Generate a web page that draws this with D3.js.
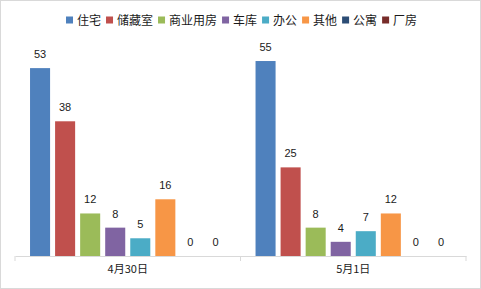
<!DOCTYPE html>
<html>
<head>
<meta charset="utf-8">
<script src="https://cdn.jsdelivr.net/npm/d3@7"></script>
<style>
body { margin: 0; background: #fff; }
svg { display: block; font-family: "Liberation Sans", "Noto Sans CJK SC", sans-serif; }
</style>
</head>
<body>
<svg></svg>
<script>
// data
var dates = ["4月30日", "5月1日"]
var types = ["住宅", "储藏室", "商业用房", "车库", "办公", "其他", "公寓", "厂房"]
var apr30 = [53, 38, 12, 8, 5, 16, 0, 0]
var may1 = [55, 25, 8, 4, 7, 12, 0, 0]
var colors = ["#4F81BD", "#C0504D", "#9BBB59", "#8064A2", "#4BACC6", "#F79646", "#2C4D75", "#772C2A"]

var screen = {width: 481, height: 289}
var svg = d3.select("svg")
    .attr("width", screen.width)
    .attr("height", screen.height)

svg.append("rect")
    .attr("x", 0.5).attr("y", 0.5)
    .attr("width", screen.width - 1).attr("height", screen.height - 1)
    .attr("fill", "#fff").attr("stroke", "#d9d9d9")

var series = [apr30, may1]

var xscale = d3.scaleBand().domain(dates).range([15, 466])
var inner = d3.scaleBand().domain(types).range([0, xscale.bandwidth()])
    .paddingInner(0.2).paddingOuter(0.6)
var yscale = d3.scaleLinear().domain([0, 60]).range([256, 43.3])

var groups = svg.selectAll("g.grp")
    .data(dates)
    .enter()
    .append("g")
    .attr("class", "grp")
    .attr("transform", function(d) { return "translate(" + xscale(d) + ",0)" })

groups.each(function(d, gi)
{
    var g = d3.select(this)
    var vals = series[gi].map(function(v, i) { return {type: types[i], value: v, color: colors[i]} })

    g.selectAll("rect")
        .data(vals)
        .enter()
        .append("rect")
        .attr("x", function(p) { return inner(p.type) })
        .attr("y", function(p) { return yscale(p.value) })
        .attr("width", inner.bandwidth())
        .attr("height", function(p) { return yscale(0) - yscale(p.value) })
        .attr("fill", function(p) { return p.color })

    g.selectAll("text")
        .data(vals)
        .enter()
        .append("text")
        .attr("x", function(p) { return inner(p.type) + inner.bandwidth() / 2 })
        .attr("y", function(p) { return yscale(p.value) - 10 })
        .attr("text-anchor", "middle")
        .attr("font-size", 11)
        .attr("fill", "#1a1a1a")
        .text(function(p) { return p.value })
})

// x axis
var axis = svg.append("g")
    .attr("transform", "translate(0,256)")
    .call(d3.axisBottom(xscale).tickSize(0).tickPadding(9))
axis.select(".domain").attr("stroke", "#d9d9d9")
axis.selectAll("text").attr("font-size", 11).attr("fill", "#1a1a1a")
    .attr("font-family", "'Noto Sans CJK SC', sans-serif")

// tick separators at band edges
var edges = [xscale.range()[0]].concat(dates.map(function(d) { return xscale(d) + xscale.bandwidth() }))
axis.selectAll("line.sep")
    .data(edges)
    .enter()
    .append("line")
    .attr("class", "sep")
    .attr("x1", function(e) { return e }).attr("x2", function(e) { return e })
    .attr("y1", 0).attr("y2", 5)
    .attr("stroke", "#d9d9d9")

// legend
var legend = svg.append("g").attr("transform", "translate(66,20)")
var lx = 0
types.forEach(function(t, i)
{
    legend.append("rect")
        .attr("x", lx).attr("y", -3.5)
        .attr("width", 7).attr("height", 7)
        .attr("fill", colors[i])
    var txt = legend.append("text")
        .attr("x", lx + 11).attr("y", 4.5)
        .attr("font-size", 12)
        .attr("font-family", "'Noto Sans CJK SC', sans-serif")
        .attr("fill", "#1a1a1a")
        .text(t)
    lx += 11 + txt.node().getComputedTextLength() + 5
})
</script>
</body>
</html>
